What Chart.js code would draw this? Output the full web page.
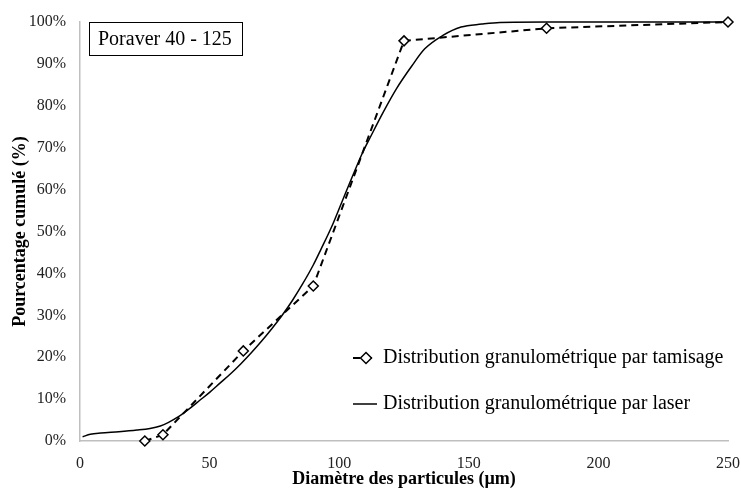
<!DOCTYPE html>
<html>
<head>
<meta charset="utf-8">
<script src="https://cdn.jsdelivr.net/npm/chart.js@4/dist/chart.umd.min.js"></script>
<style>
  html, body { margin: 0; padding: 0; background: #fff; }
  #wrap { width: 741px; height: 490px; }
</style>
</head>
<body>
<div id="wrap"><canvas id="chart1" width="741" height="490"></canvas></div>
<script>
// sieve (tamisage) points
var sieveX = [25, 32, 63, 90, 125, 180, 250];
var sieveY = [0, 1.5, 21.5, 37, 95.5, 98.5, 100];

// laser curve
var laserX = [1, 4, 8, 15, 22, 27, 31, 34, 38, 42, 46, 50, 54, 58, 62, 66, 70, 74, 78, 82, 86, 90, 93, 97, 101, 105, 109, 112, 117, 122, 128, 133, 140, 147, 155, 162, 180, 200, 230, 250];
var laserY = [1.0, 1.6, 1.9, 2.2, 2.6, 3.0, 3.6, 4.4, 5.8, 7.6, 9.6, 11.6, 13.8, 16.0, 18.4, 21.0, 23.8, 26.8, 30.0, 33.6, 37.6, 42.0, 45.8, 51.0, 57.0, 63.0, 68.8, 72.5, 78.5, 84.0, 89.5, 93.6, 96.8, 98.8, 99.5, 99.9, 100, 100, 100, 100];

var xTicks = [0, 50, 100, 150, 200, 250];
var yTicks = [0, 10, 20, 30, 40, 50, 60, 70, 80, 90, 100];

var serif = "'Liberation Serif', 'DejaVu Serif', serif";

function pts(xs, ys) {
  return xs.map(function (x, i) { return { x: x, y: ys[i] }; });
}

// title box + legend drawn on top of the plot
var overlay = {
  id: 'overlay',
  afterDraw: function (chart) {
    var c = chart.ctx;
    c.save();
    // title box
    c.fillStyle = '#fff';
    c.fillRect(89.5, 22.5, 153, 33);
    c.strokeStyle = '#000';
    c.lineWidth = 1;
    c.strokeRect(89.5, 22.5, 153, 33);
    c.fillStyle = '#000';
    c.font = '20px ' + serif;
    c.textBaseline = 'middle';
    c.textAlign = 'left';
    c.fillText('Poraver 40 - 125', 98, 40);

    // legend
    var rows = [358, 404];
    chart.data.datasets.forEach(function (ds, i) {
      var y = rows[i];
      c.strokeStyle = '#000';
      c.lineWidth = ds.borderWidth;
      c.setLineDash(ds.borderDash || []);
      c.beginPath();
      c.moveTo(353, y);
      c.lineTo(377, y);
      c.stroke();
      c.setLineDash([]);
      if (ds.pointRadius > 0) {
        c.fillStyle = '#fff';
        c.lineWidth = 1.5;
        c.beginPath();
        c.moveTo(366, y - 5.5);
        c.lineTo(371.5, y);
        c.lineTo(366, y + 5.5);
        c.lineTo(360.5, y);
        c.closePath();
        c.fill();
        c.stroke();
      }
      c.fillStyle = '#000';
      c.font = '20px ' + serif;
      c.fillText(ds.label, 383, y);
    });
    c.restore();
  }
};

var ctx = document.getElementById('chart1').getContext('2d');
var chart = new Chart(ctx, {
  type: 'scatter',
  data: {
    datasets: [{
      label: 'Distribution granulométrique par tamisage',
      data: pts(sieveX, sieveY),
      showLine: true,
      clip: false,
      borderColor: '#000',
      borderWidth: 2,
      borderDash: [7, 5],
      pointStyle: 'rectRot',
      pointRadius: 5,
      pointBackgroundColor: '#fff',
      pointBorderColor: '#000',
      pointBorderWidth: 1.5,
      tension: 0
    }, {
      label: 'Distribution granulométrique par laser',
      data: pts(laserX, laserY),
      showLine: true,
      clip: false,
      borderColor: '#000',
      borderWidth: 1.5,
      pointRadius: 0,
      cubicInterpolationMode: 'monotone'
    }]
  },
  plugins: [overlay],
  options: {
    responsive: false,
    animation: false,
    layout: { padding: { top: 22, right: 8, left: 0, bottom: 0 } },
    plugins: {
      legend: { display: false },
      tooltip: { enabled: false }
    },
    scales: {
      x: {
        type: 'linear',
        min: 0, max: 250,
        afterFit: function (s) { s.height = 49; s.paddingRight = 13; },
        afterBuildTicks: function (s) { s.ticks = xTicks.map(function (v) { return { value: v }; }); },
        grid: { display: false, drawTicks: true, tickLength: 5, color: '#bfbfbf' },
        border: { color: '#bfbfbf', width: 1.5 },
        ticks: { color: '#222', font: { family: serif, size: 16 }, padding: 8, maxRotation: 0 },
        title: { display: true, text: 'Diamètre des particules (µm)', color: '#000', font: { family: serif, size: 18, weight: 'bold' }, padding: { top: 2, bottom: 0 } }
      },
      y: {
        type: 'linear',
        min: 0, max: 100,
        afterFit: function (s) { s.width = 80; },
        afterBuildTicks: function (s) { s.ticks = yTicks.map(function (v) { return { value: v }; }); },
        grid: { display: false, drawTicks: true, tickLength: 5, color: '#bfbfbf' },
        border: { color: '#bfbfbf', width: 1.5 },
        ticks: { color: '#222', font: { family: serif, size: 16 }, padding: 9, callback: function (v) { return v + '%'; } },
        title: { display: true, text: 'Pourcentage cumulé (%)', color: '#000', font: { family: serif, size: 18, weight: 'bold' }, padding: { top: 10, bottom: 0 } }
      }
    }
  }
});
</script>
</body>
</html>
